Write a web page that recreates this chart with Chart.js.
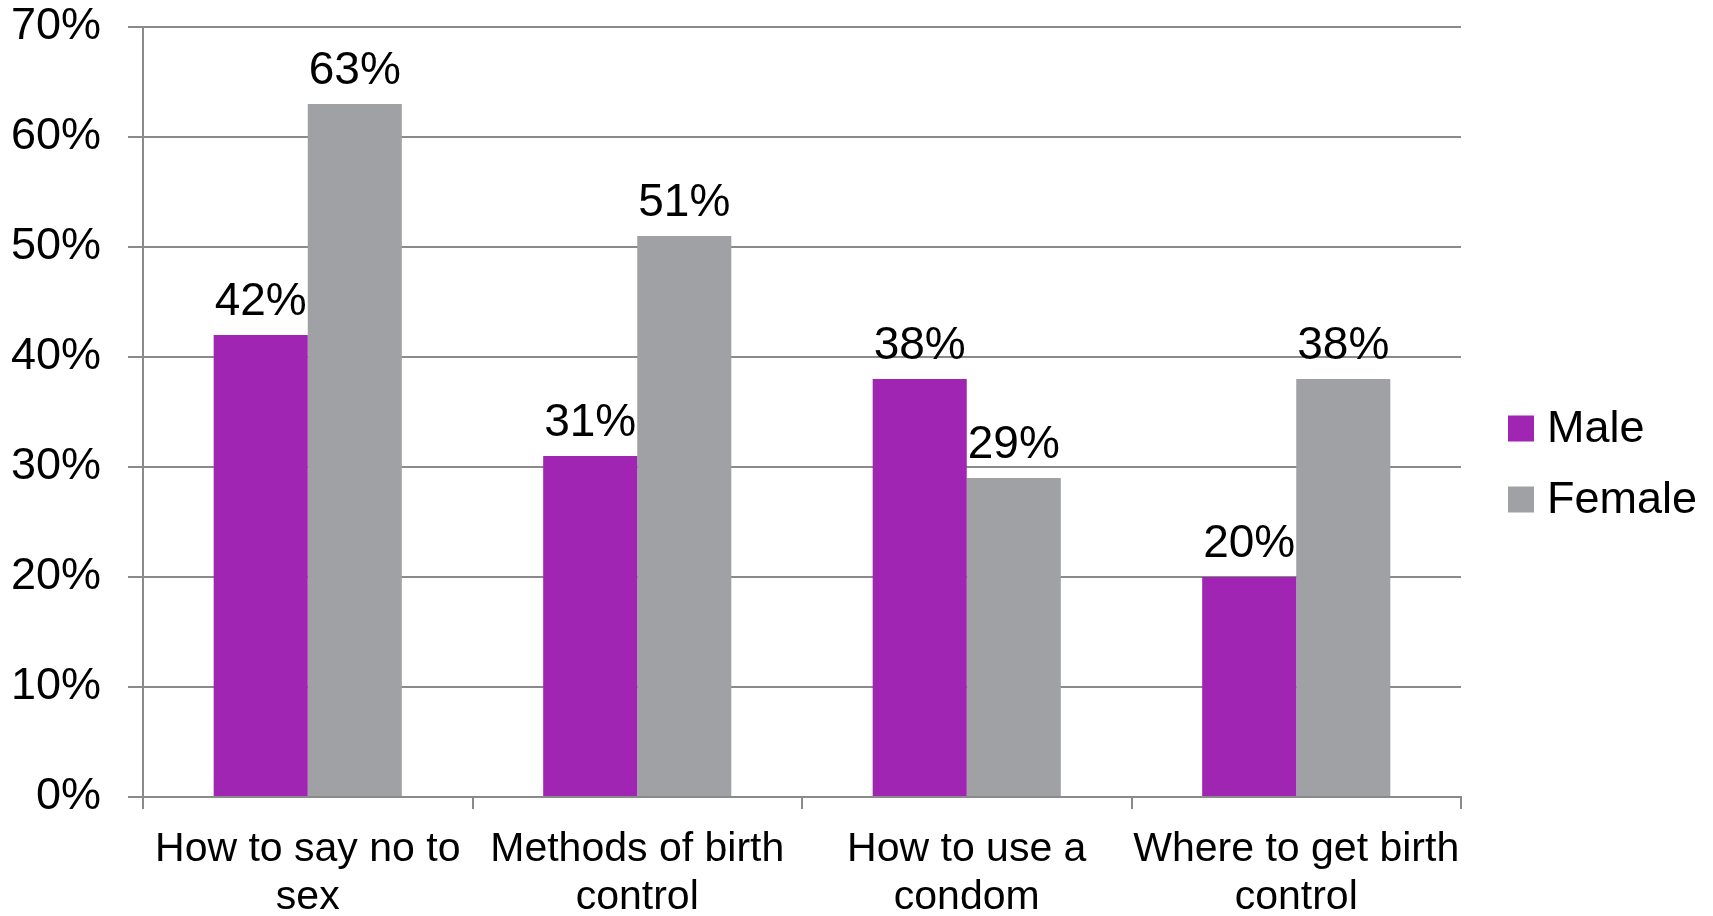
<!DOCTYPE html>
<html>
<head>
<meta charset="utf-8">
<script src="https://cdn.jsdelivr.net/npm/chart.js@4/dist/chart.umd.min.js"></script>
<style>
  html, body { margin: 0; padding: 0; background: #ffffff; }
  #wrap { width: 1713px; height: 916px; }
</style>
</head>
<body>
<div id="wrap"><canvas id="chart" width="1713" height="916"></canvas></div>
<script>
// Data
const categories = [
    ['How to say no to', 'sex'],
    ['Methods of birth', 'control'],
    ['How to use a', 'condom'],
    ['Where to get birth', 'control']
];
const maleValues = [42, 31, 38, 20];
const femaleValues = [63, 51, 29, 38];
const seriesNames = ['Male', 'Female'];
const yTicks = [0, 10, 20, 30, 40, 50, 60, 70];

const MALE_COLOR = '#a025b3';
const FEMALE_COLOR = '#a0a1a5';
const AXIS_COLOR = '#8a8a8a';
const FONT = 'Arial, "Liberation Sans", sans-serif';

// Value labels above each bar
const valueLabels = {
    id: 'valueLabels',
    afterDatasetsDraw(chart) {
        const ctx = chart.ctx;
        ctx.save();
        ctx.font = '46px ' + FONT;
        ctx.fillStyle = '#000';
        ctx.textAlign = 'center';
        ctx.textBaseline = 'alphabetic';
        chart.data.datasets.forEach((ds, i) => {
            chart.getDatasetMeta(i).data.forEach((bar, j) => {
                ctx.fillText(ds.data[j] + '%', bar.x, bar.y - 20);
            });
        });
        ctx.restore();
    }
};

// Legend on the right, drawn from the datasets
const sideLegend = {
    id: 'sideLegend',
    afterDraw(chart) {
        const ctx = chart.ctx;
        const x0 = chart.chartArea.right + 47;
        const yMid = chart.height / 2 + 6;
        const gap = 71;
        ctx.save();
        ctx.font = '45px ' + FONT;
        ctx.textBaseline = 'middle';
        ctx.textAlign = 'left';
        chart.data.datasets.forEach((ds, i) => {
            const cy = yMid - gap / 2 + i * gap;
            ctx.fillStyle = ds.backgroundColor;
            ctx.fillRect(x0, cy - 13, 26, 26);
            ctx.fillStyle = '#000';
            ctx.fillText(ds.label, x0 + 39, cy + 1);
        });
        ctx.restore();
    }
};

new Chart(document.getElementById('chart'), {
    type: 'bar',
    data: {
        labels: categories,
        datasets: [
            { label: seriesNames[0], data: maleValues, backgroundColor: MALE_COLOR },
            { label: seriesNames[1], data: femaleValues, backgroundColor: FEMALE_COLOR }
        ]
    },
    options: {
        responsive: false,
        devicePixelRatio: 1,
        animation: false,
        layout: { padding: { top: 27, right: 252, left: 0, bottom: 0 } },
        datasets: {
            bar: { categoryPercentage: 0.571, barPercentage: 1.0, borderWidth: 0 }
        },
        plugins: {
            legend: { display: false },
            tooltip: { enabled: false }
        },
        scales: {
            x: {
                afterFit(scale) {
                    scale.height = 119;
                    scale.paddingLeft = 0;
                    scale.paddingRight = 0;
                },
                grid: {
                    offset: true,
                    drawOnChartArea: false,
                    color: AXIS_COLOR,
                    lineWidth: 2,
                    tickLength: 12
                },
                border: { color: AXIS_COLOR, width: 2 },
                ticks: {
                    color: '#000',
                    padding: 17,
                    maxRotation: 0,
                    autoSkip: false,
                    font: { family: FONT, size: 41, lineHeight: 1.17 }
                }
            },
            y: {
                min: 0,
                max: 70,
                afterFit(scale) {
                    scale.width = 143;
                    scale.paddingTop = 0;
                    scale.paddingBottom = 0;
                },
                afterBuildTicks(scale) { scale.ticks = yTicks.map(v => ({ value: v })); },
                grid: { color: AXIS_COLOR, lineWidth: 2, tickLength: 15 },
                border: { color: AXIS_COLOR, width: 2 },
                ticks: {
                    color: '#000',
                    padding: 27,
                    font: { family: FONT, size: 45 },
                    callback: v => v + '%'
                }
            }
        }
    },
    plugins: [valueLabels, sideLegend]
});
</script>
</body>
</html>
